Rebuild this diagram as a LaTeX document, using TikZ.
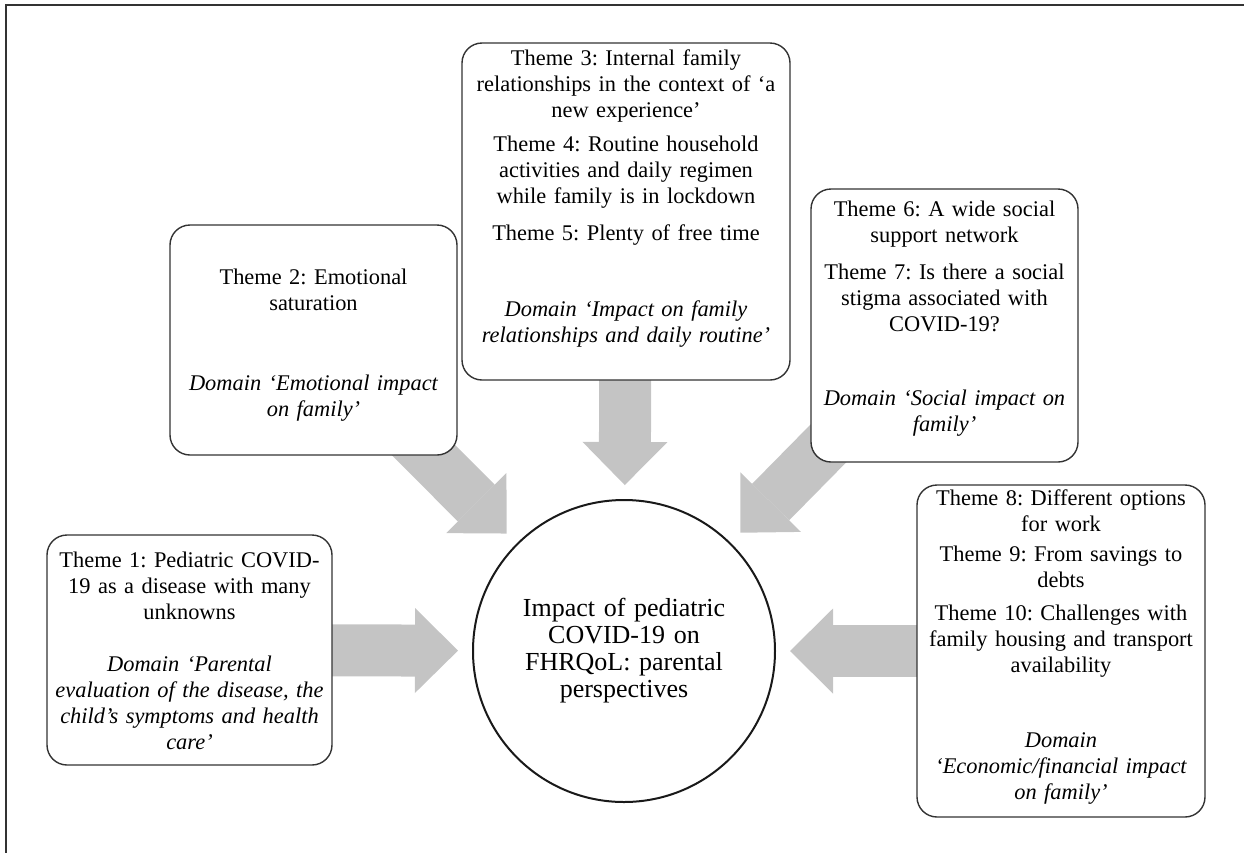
\documentclass[tikz,border=0pt]{standalone}
\usepackage{fontspec}
\setmainfont{Liberation Serif}
\usetikzlibrary{positioning,arrows.meta,backgrounds}
\definecolor{arrowgray}{HTML}{C4C4C4}
\frenchspacing

\begin{document}
\begin{tikzpicture}[x=0.5pt, y=-0.5pt,
    box/.style={draw=black!80, line width=0.7pt, rounded corners=10pt, fill=white, inner sep=0pt},
    theme/.style={align=center, text width=170pt, inner sep=0pt, font={\fontsize{11.2}{13}\selectfont}},
    bigarrow/.style={line width=26pt, color=arrowgray, -{Triangle[width=42.5pt, length=21.5pt, line width=0pt]}, shorten >=7pt}]
    \useasboundingbox (0,0) rectangle (1244,853);
    \draw[line width=1pt, black!80] (1244,5) -- (6,5) -- (6,853);

    %%one
    \node[box, minimum width=142.5pt, minimum height=115pt] (b1) at (189.5,650) {};
    \node[theme, below=8.5pt of b1.north] (s1) {Theme 1: Pediatric COVID-\\
        19 as a disease with many\\ unknowns\\[13pt]
        \itshape Domain ‘Parental\\ evaluation of the disease, the\\
        child’s symptoms and health\\ care’};

    %%two
    \node[box, minimum width=143.5pt, minimum height=115pt] (b2) at (313.5,340) {};
    \node[theme, below=22pt of b2.north] (s2) {Theme 2: Emotional\\ saturation\\[27pt]
        \itshape Domain ‘Emotional impact\\ on family’};

    %%three
    \node[box, minimum width=164pt, minimum height=168.5pt] (b3) at (626,211.5) {};
    \node[theme, below=3.5pt of b3.north] (s3) {Theme 3: Internal family\\
        relationships in the context of ‘a\\ new experience’\\[4pt]
        Theme 4: Routine household\\ activities and daily regimen\\
        while family is in lockdown\\[5.5pt]
        Theme 5: Plenty of free time\\[25pt]
        \itshape Domain ‘Impact on family\\ relationships and daily routine’};

    %%four
    \node[box, minimum width=133.5pt, minimum height=136.5pt] (b4) at (944.5,325.5) {};
    \node[theme, below=6pt of b4.north] (s4) {Theme 6: A wide social\\ support network\\[5.5pt]
        Theme 7: Is there a social\\ stigma associated with\\ COVID-19?\\[24pt]
        \itshape Domain ‘Social impact on\\ family’};

    %%five
    \node[box, minimum width=144pt, minimum height=166pt] (b5) at (1061,651) {};
    \node[theme, below=2.5pt of b5.north] (s5) {Theme 8: Different options\\ for work\\[2pt]
        Theme 9: From savings to\\ debts\\[3.5pt]
        Theme 10: Challenges with\\ family housing and transport\\ availability\\[24.5pt]
        \itshape Domain\\ ‘Economic/financial impact\\ on family’};

    %%centre
    \node[circle, draw=black!90, line width=1pt, minimum size=151pt, inner sep=0pt,
        align=center, text width=110pt, font={\fontsize{13}{13.5}\selectfont}] (c) at (624,651)
        {Impact of pediatric\\ COVID-19 on\\ FHRQoL: parental\\ perspectives};

    \begin{scope}[on background layer]
    \draw[bigarrow] (b1.center) -- (c);
    \draw[bigarrow] (b2.center) -- (c);
    \draw[bigarrow] (b3.center) -- (c);
    \draw[bigarrow] (b4.center) -- (c);
    \draw[bigarrow] (b5.center) -- (c);
    \end{scope}
\end{tikzpicture}
\end{document}
